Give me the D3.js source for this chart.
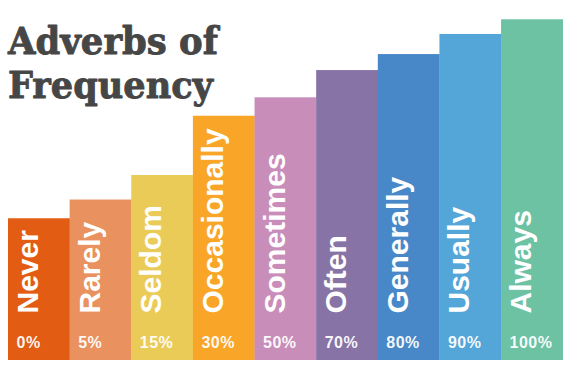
<!DOCTYPE html>
<html>
<head>
<meta charset="utf-8">
<script src="https://cdn.jsdelivr.net/npm/d3@7"></script>
<style>
  html, body { margin: 0; padding: 0; background: #ffffff; }
  svg { display: block; }
</style>
</head>
<body>
<script>
const categories = ["Never", "Rarely", "Seldom", "Occasionally", "Sometimes", "Often", "Generally", "Usually", "Always"];
const percentLabels = ["0%", "5%", "15%", "30%", "50%", "70%", "80%", "90%", "100%"];
const barLevels = [41.6, 47.1, 54.3, 71.7, 77.1, 85.1, 89.8, 95.7, 100];
const barColors = ["#E35C13", "#E9915F", "#EBCB57", "#F8A528", "#C98DBA", "#8873A6", "#4888C8", "#54A6D8", "#6CC2A3"];
const titleLines = ["Adverbs of", "Frequency"];

const W = 570, H = 368;
const svg = d3.select("body").append("svg").attr("width", W).attr("height", H);
svg.append("rect").attr("width", W).attr("height", H).attr("fill", "#ffffff");

const x = d3.scaleBand().domain(categories).range([8, 562.7]).padding(0);
const y = d3.scaleLinear().domain([0, 100]).range([360, 19.3]);

const data = categories.map((c, i) => ({ cat: c, level: barLevels[i], pct: percentLabels[i], color: barColors[i] }));

const g = svg.append("g");
g.selectAll("rect.bar").data(data).join("rect")
  .attr("class", "bar")
  .attr("x", d => x(d.cat))
  .attr("y", d => y(d.level))
  .attr("width", x.bandwidth() + 0.3)
  .attr("height", d => y(0) - y(d.level))
  .attr("fill", d => d.color);

// rotated category labels
g.selectAll("text.cat").data(data).join("text")
  .attr("class", "cat")
  .attr("transform", d => `translate(${x(d.cat) + 30},${y(0) - 46.5}) rotate(-90)`)
  .attr("text-anchor", "start")
  .attr("font-family", "'Liberation Sans', Arial, Helvetica, sans-serif")
  .attr("font-weight", "bold")
  .attr("font-size", 30)
  .attr("fill", "#ffffff")
  .text(d => d.cat);

// percentage labels
g.selectAll("text.pct").data(data).join("text")
  .attr("class", "pct")
  .attr("x", d => x(d.cat) + 8.5)
  .attr("y", y(0) - 12.5)
  .attr("font-family", "'Liberation Sans', Arial, Helvetica, sans-serif")
  .attr("font-weight", "bold")
  .attr("font-size", 16)
  .attr("letter-spacing", 0.5)
  .attr("fill", "#ffffff")
  .attr("fill-opacity", 0.95)
  .text(d => d.pct);

// title
const title = svg.append("g");
const titleWidths = [210, 205];
title.selectAll("text").data(titleLines).join("text")
  .attr("x", 8)
  .attr("y", (d, i) => 54.3 + i * 43.2)
  .attr("font-family", "'DejaVu Serif', serif")
  .attr("font-weight", "bold")
  .attr("font-size", 38)
  .attr("fill", "#464646")
  .attr("stroke", "#464646")
  .attr("stroke-width", 0.9)
  .attr("stroke-linejoin", "round")
  .attr("textLength", (d, i) => titleWidths[i])
  .attr("lengthAdjust", "spacingAndGlyphs")
  .text(d => d);
</script>
</body>
</html>
